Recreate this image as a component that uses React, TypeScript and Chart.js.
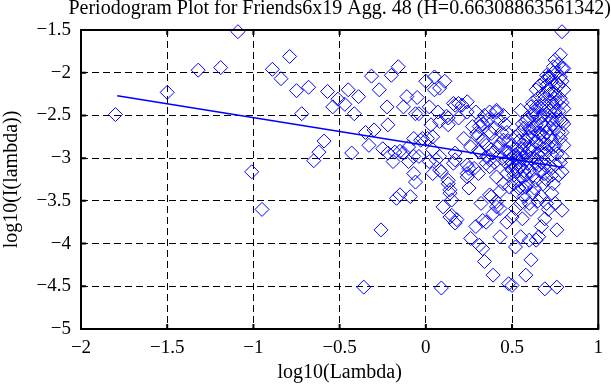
import React, { useEffect, useRef } from "react";
import { Chart, registerables } from "chart.js";

Chart.register(...registerables);

const titleText = "Periodogram Plot for Friends6x19 Agg. 48 (H=0.66308863561342)";
const xAxisLabel = "log10(Lambda)";
const yAxisLabel = "log10(I(lambda))";

const xTickLabels = ["\u22122", "\u22121.5", "\u22121", "\u22120.5", "0", "0.5", "1"];
const yTickLabels = ["\u22125", "\u22124.5", "\u22124", "\u22123.5", "\u22123", "\u22122.5", "\u22122", "\u22121.5"];

// periodogram points: log10(lambda)
const pointX = [
  -1.80, -1.50, -1.32, -1.19, -1.09, -1.01, -0.95, -0.89, -0.84, -0.79,
  -0.75, -0.72, -0.68, -0.65, -0.62, -0.59, -0.57, -0.54, -0.51, -0.47,
  -0.45, -0.43, -0.415, -0.39, -0.36, -0.35, -0.33, -0.315, -0.30, -0.27,
  -0.26, -0.25, -0.225, -0.22, -0.22, -0.20, -0.19, -0.18, -0.17, -0.16,
  -0.15, -0.15, -0.13, -0.13, -0.11, -0.10, -0.10, -0.09, -0.07, -0.07,
  -0.07, -0.06, -0.06, -0.05, -0.04, -0.04, -0.03, -0.02, 0.00, 0.01,
  0.02, 0.02, 0.03, 0.04, 0.04, 0.04, 0.05, 0.05, 0.06, 0.07,
  0.08, 0.08, 0.08, 0.08, 0.09, 0.09, 0.10, 0.11, 0.12, 0.13,
  0.13, 0.13, 0.13, 0.14, 0.14, 0.14, 0.15, 0.15, 0.16, 0.16,
  0.17, 0.17, 0.17, 0.17, 0.18, 0.19, 0.19, 0.21, 0.22, 0.24,
  0.24, 0.24, 0.24, 0.24, 0.25, 0.25, 0.26, 0.26, 0.27, 0.28,
  0.29, 0.29, 0.295, 0.305, 0.305, 0.31, 0.31, 0.31, 0.32, 0.32,
  0.33, 0.33, 0.33, 0.34, 0.34, 0.35, 0.35, 0.36, 0.37, 0.37,
  0.37, 0.37, 0.37, 0.38, 0.38, 0.39, 0.39, 0.39, 0.41, 0.41,
  0.41, 0.41, 0.41, 0.42, 0.43, 0.43, 0.43, 0.43, 0.45, 0.45,
  0.46, 0.46, 0.47, 0.47, 0.48, 0.48, 0.485, 0.485, 0.50, 0.50,
  0.50, 0.52, 0.52, 0.52, 0.54, 0.55, 0.55, 0.55, 0.56, 0.56,
  0.56, 0.57, 0.58, 0.58, 0.58, 0.58, 0.58, 0.59, 0.60, 0.60,
  0.61, 0.61, 0.61, 0.62, 0.62, 0.62, 0.64, 0.64, 0.64, 0.64,
  0.64, 0.64, 0.655, 0.655, 0.665, 0.665, 0.67, 0.67, 0.67, 0.68,
  0.69, 0.69, 0.69, 0.69, 0.69, 0.69, 0.69, 0.69, 0.70, 0.70,
  0.71, 0.72, 0.72, 0.73, 0.73, 0.73, 0.73, 0.73, 0.74, 0.74,
  0.75, 0.75, 0.75, 0.75, 0.75, 0.76, 0.76, 0.76, 0.78, 0.78,
  0.78, 0.79, 0.79, 0.79, 0.79, 0.79, 0.79, 0.80, 0.80,
];

// periodogram points: log10(I(lambda))
const pointY = [
  -2.49, -2.23, -1.97, -1.94, -1.52, -3.16, -3.60, -1.96, -2.07, -1.81,
  -2.21, -2.48, -2.17, -3.03, -2.93, -2.80, -2.22, -2.40, -2.31, -2.37,
  -2.20, -2.94, -2.48, -2.28, -4.51, -2.70, -2.85, -2.04, -2.67, -2.20,
  -3.84, -2.89, -2.40, -2.61, -2.94, -2.03, -3.04, -2.93, -3.47, -1.93,
  -3.43, -2.92, -2.40, -2.94, -2.28, -3.04, -2.87, -3.45, -2.77, -3.18,
  -2.98, -3.28, -2.48, -2.29, -2.48, -2.98, -2.79, -2.77, -2.10, -2.77,
  -2.40, -3.04, -2.61, -2.75, -3.18, -2.90, -2.05, -2.20, -3.02, -2.46,
  -2.57, -2.18, -3.14, -2.98, -4.52, -3.16, -3.57, -2.10, -2.51, -2.53,
  -2.61, -3.26, -3.30, -3.69, -3.41, -3.37, -3.49, -3.67, -3.06, -2.36,
  -2.38, -3.02, -2.94, -3.76, -3.72, -2.36, -2.53, -2.38, -2.77, -2.46,
  -2.34, -3.08, -3.22, -3.18, -3.12, -3.35, -2.87, -3.94, -2.63, -3.12,
  -2.46, -3.80, -2.71, -2.91, -3.18, -2.93, -2.63, -4.02, -2.57, -3.53,
  -2.79, -3.73, -4.06, -2.50, -4.21, -3.06, -3.75, -2.98, -2.46, -2.69,
  -3.02, -3.10, -3.43, -2.71, -3.45, -2.94, -3.65, -4.37, -2.44, -2.46,
  -3.22, -3.51, -3.57, -2.87, -2.83, -3.39, -3.59, -3.92, -2.79, -3.30,
  -2.91, -3.04, -3.18, -3.75, -2.93, -4.47, -3.02, -3.34, -3.14, -3.69,
  -4.49, -2.96, -3.59, -4.04, -3.35, -2.44, -3.53, -3.92, -2.89, -3.22,
  -3.71, -2.65, -2.57, -2.79, -3.02, -3.34, -4.37, -3.06, -3.53, -3.96,
  -2.40, -2.69, -4.19, -2.50, -2.91, -3.41, -2.40, -2.61, -2.81, -3.06,
  -3.26, -3.96, -3.08, -3.92, -2.53, -2.71, -2.93, -3.45, -3.80, -2.36,
  -2.10, -2.46, -2.63, -2.83, -3.08, -3.18, -3.71, -4.53, -2.03, -3.53,
  -2.20, -2.05, -2.75, -2.34, -2.55, -2.96, -3.20, -3.41, -1.93, -2.87,
  -2.24, -2.46, -2.65, -3.08, -3.53, -2.12, -3.84, -4.51, -1.79, -2.30,
  -2.77, -1.52, -1.95, -2.57, -2.98, -3.16, -3.61, -2.20, -2.42,
];

// dense high-frequency cloud: log10(lambda)
const denseX = [
  0.46, 0.47, 0.48, 0.49, 0.49, 0.50, 0.50, 0.51, 0.51, 0.51,
  0.52, 0.52, 0.53, 0.53, 0.53, 0.53, 0.54, 0.54, 0.54, 0.55,
  0.55, 0.55, 0.56, 0.56, 0.56, 0.57, 0.57, 0.57, 0.58, 0.58,
  0.59, 0.59, 0.59, 0.60, 0.60, 0.60, 0.61, 0.61, 0.61, 0.62,
  0.62, 0.62, 0.63, 0.63, 0.63, 0.63, 0.64, 0.64, 0.65, 0.65,
  0.65, 0.65, 0.66, 0.66, 0.66, 0.66, 0.67, 0.67, 0.68, 0.68,
  0.68, 0.68, 0.69, 0.69, 0.70, 0.70, 0.70, 0.70, 0.70, 0.71,
  0.71, 0.71, 0.71, 0.72, 0.72, 0.72, 0.72, 0.73, 0.73, 0.74,
  0.74, 0.74, 0.74, 0.75, 0.75, 0.75, 0.76, 0.76, 0.76, 0.76,
  0.77, 0.77, 0.77, 0.77, 0.77, 0.78, 0.78, 0.78, 0.79, 0.79,
  0.79, 0.80, 0.80, 0.80, 0.30, 0.33, 0.35, 0.36, 0.38, 0.40,
  0.40, 0.42, 0.44, 0.44, 0.45,
];

// dense high-frequency cloud: log10(I(lambda))
const denseY = [
  -2.60, -2.70, -2.80, -3.10, -2.95, -3.05, -2.85, -3.20, -2.98, -3.30,
  -3.10, -2.75, -3.00, -3.15, -2.90, -3.40, -3.05, -2.80, -3.25, -2.95,
  -3.10, -2.70, -3.00, -3.35, -2.60, -2.85, -3.15, -3.45, -2.95, -3.20,
  -2.75, -2.55, -3.30, -2.65, -2.90, -3.15, -2.85, -3.00, -3.60, -2.35,
  -2.75, -3.20, -2.45, -2.65, -3.00, -3.35, -2.20, -2.50, -2.30, -2.70,
  -2.95, -3.50, -2.15, -2.40, -2.85, -3.15, -2.60, -3.05, -2.25, -2.50,
  -2.75, -3.30, -2.30, -2.95, -2.15, -2.40, -2.70, -2.90, -3.25, -2.05,
  -2.50, -2.85, -3.60, -2.25, -2.45, -2.65, -3.10, -2.10, -2.80, -2.00,
  -2.40, -2.60, -3.30, -1.85, -2.30, -2.85, -2.00, -2.35, -2.55, -2.95,
  -1.90, -2.15, -2.45, -2.70, -3.20, -2.05, -2.55, -3.05, -2.10, -2.35,
  -2.70, -1.95, -2.60, -2.85, -2.75, -2.60, -2.85, -2.55, -2.90, -2.65,
  -3.05, -2.55, -2.70, -3.00, -2.50,
];

// fitted regression line (end points)
const fitX = [-1.79, 0.80];
const fitY = [-2.27, -3.11];

const BLUE = "#0000ff";
const FONT = "'Liberation Serif', 'Times New Roman', serif";
const TICK_SIZE = 19;
const TITLE_SIZE = 20;

const framePlugin = {
  id: "frameAndTitle",
  afterDatasetsDraw(chart: any) {
    const { ctx, chartArea } = chart;
    const { left, right, top, bottom } = chartArea;
    const xs = chart.scales.x;
    const ys = chart.scales.y;
    ctx.save();
    ctx.strokeStyle = "#000";
    ctx.lineWidth = 2;
    ctx.setLineDash([]);
    ctx.strokeRect(left, top, right - left, bottom - top);
    const len = 5;
    ctx.beginPath();
    xs.ticks.forEach((t: any) => {
      const px = xs.getPixelForValue(t.value);
      ctx.moveTo(px, bottom);
      ctx.lineTo(px, bottom - len);
      ctx.moveTo(px, top);
      ctx.lineTo(px, top + len);
    });
    ys.ticks.forEach((t: any) => {
      const py = ys.getPixelForValue(t.value);
      ctx.moveTo(left, py);
      ctx.lineTo(left + len, py);
      ctx.moveTo(right, py);
      ctx.lineTo(right - len, py);
    });
    ctx.stroke();
    ctx.restore();
  },
  afterDraw(chart: any) {
    const { ctx, chartArea } = chart;
    ctx.save();
    ctx.fillStyle = "#000";
    ctx.font = `${TITLE_SIZE}px ${FONT}`;
    ctx.textAlign = "center";
    ctx.textBaseline = "alphabetic";
    ctx.fillText(titleText, (chartArea.left + chartArea.right) / 2, 14);
    ctx.restore();
  },
};

export default function App() {
  const ref = useRef<HTMLCanvasElement | null>(null);

  useEffect(() => {
    if (!ref.current) return;
    const allX = pointX.concat(denseX);
    const allY = pointY.concat(denseY);
    const scatterData = allX.map((x, i) => ({ x, y: allY[i] }));
    const lineData = fitX.map((x, i) => ({ x, y: fitY[i] }));
    const chart = new Chart(ref.current, {
      type: "scatter",
      data: {
        datasets: [
          {
            label: "periodogram",
            data: scatterData,
            pointStyle: "rectRot",
            pointRadius: 7,
            pointBorderWidth: 1,
            borderColor: BLUE,
            backgroundColor: "rgba(0,0,0,0)",
            clip: false,
          } as any,
          {
            label: "fit",
            type: "line",
            data: lineData,
            borderColor: BLUE,
            borderWidth: 1.6,
            pointRadius: 0,
            fill: false,
            showLine: true,
          } as any,
        ],
      },
      options: {
        animation: false,
        responsive: false,
        layout: { padding: { top: 30, right: 2, left: 0, bottom: 0 } },
        plugins: {
          legend: { display: false },
          tooltip: { enabled: false },
          title: { display: false, text: titleText },
        },
        scales: {
          x: {
            type: "linear",
            min: -2,
            max: 1,
            afterFit: (s: any) => {
              s.height = 56;
            },
            ticks: {
              stepSize: 0.5,
              padding: 8,
              color: "#000",
              font: { family: FONT, size: TICK_SIZE },
              callback: (_v: any, i: number) => xTickLabels[i],
            },
            grid: { color: "#000", lineWidth: 1, drawTicks: false },
            border: { display: false, dash: [7, 4] },
            title: {
              display: true,
              text: xAxisLabel,
              color: "#000",
              font: { family: FONT, size: TITLE_SIZE, lineHeight: 1.0 },
              padding: { top: 0, bottom: 2 },
            },
          },
          y: {
            type: "linear",
            min: -5,
            max: -1.5,
            afterFit: (s: any) => {
              s.width = 81;
            },
            ticks: {
              stepSize: 0.5,
              padding: 10,
              color: "#000",
              font: { family: FONT, size: TICK_SIZE },
              callback: (_v: any, i: number) => yTickLabels[i],
            },
            grid: { color: "#000", lineWidth: 1, drawTicks: false },
            border: { display: false, dash: [7, 4] },
            title: {
              display: true,
              text: yAxisLabel,
              color: "#000",
              font: { family: FONT, size: TITLE_SIZE, lineHeight: 1.0 },
              padding: { top: 2, bottom: 0 },
            },
          },
        },
      },
      plugins: [framePlugin],
    });
    return () => chart.destroy();
  }, []);

  return (
    <canvas
      ref={ref}
      width={611}
      height={385}
      style={{ position: "absolute", left: 0, top: 0, width: 611, height: 385 }}
    />
  );
}
